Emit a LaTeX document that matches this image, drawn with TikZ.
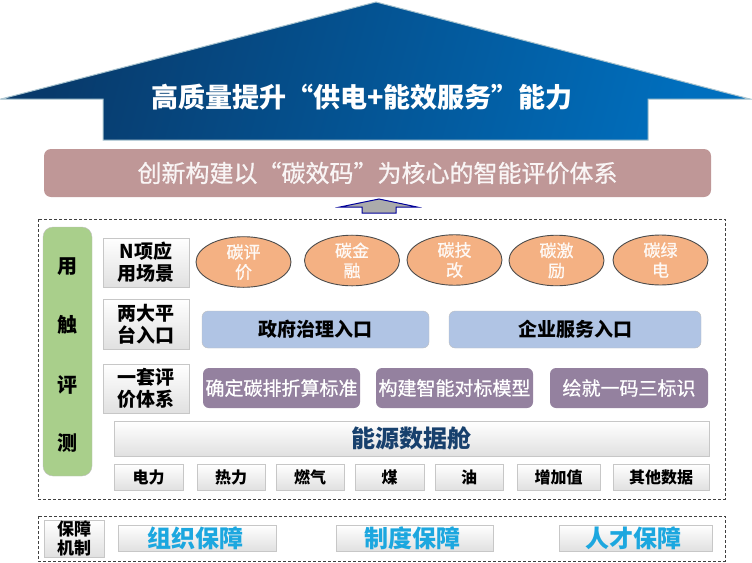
\documentclass[tikz,border=0pt]{standalone}
\usepackage{fontspec}
\setmainfont{Noto Sans CJK SC}
\newfontfamily\thickfont[FakeBold=0.8]{Noto Sans CJK SC}
\usetikzlibrary{shapes.geometric}
\definecolor{navyleft}{HTML}{083A6B}
\definecolor{navyright}{HTML}{006FBE}
\definecolor{arrowedge}{HTML}{A9C4CF}
\definecolor{pinkbar}{HTML}{BF9797}
\definecolor{greenbar}{HTML}{A9CF8B}
\definecolor{orangefill}{HTML}{F4B183}
\definecolor{bluefill}{HTML}{B0C4E4}
\definecolor{purplefill}{HTML}{94819F}
\definecolor{datatext}{HTML}{17406D}
\definecolor{guardtext}{HTML}{1CA7DF}
\tikzset{
    outerbox/.style={draw=black!75,densely dashed,line width=0.6pt},
    greybox/.style={draw=black!22,line width=0.8pt,top color=white,bottom color=black!12,inner sep=0pt,align=center},
    labelbox/.style={greybox,font=\fontsize{19}{22}\selectfont\bfseries},
    smallbox/.style={greybox,font=\fontsize{16}{18}\selectfont\bfseries},
    guardbox/.style={greybox,text=guardtext,font=\fontsize{24}{26}\selectfont\bfseries},
    sceneoval/.style={ellipse,draw=black!70,line width=0.9pt,fill=orangefill,text=white!92!orangefill,inner sep=0pt,align=center,
        minimum width=95pt,minimum height=48pt,font=\fontsize{17}{20}\selectfont\thickfont},
    entrybox/.style={rounded corners=6pt,draw=black!25,fill=bluefill,inner sep=0pt,minimum height=37pt,font=\fontsize{19}{21}\selectfont\bfseries},
    methodbox/.style={rounded corners=6pt,fill=purplefill,text=white,inner sep=0pt,minimum height=40pt,font=\fontsize{19}{21}\selectfont\thickfont}
}
\begin{document}
\begin{tikzpicture}[x=1pt,y=-1pt]
    \useasboundingbox (0,0) rectangle (752,562);

    \path[draw=arrowedge,line width=1pt,left color=navyleft,right color=navyright,shading angle=75]
        (376,2)--(750,99)--(648,99)--(648,140)--(103,140)--(103,99)--(1,99)--cycle;
    \node[text=white,font=\fontsize{27}{29}\selectfont\bfseries] (goal) at (362,97) {高质量提升“供电+能效服务”能力};

    \node[rounded corners=7pt,fill=pinkbar,text=white!90!pinkbar,inner sep=0pt,minimum width=667pt,minimum height=48pt,
        font=\fontsize{24}{26}\selectfont\thickfont] (system) at (377.5,173) {创新构建以“碳效码”为核心的智能评价体系};

    \draw[draw=blue!60!black,line width=1pt,fill=black!33]
        (379,199)--(417,207)--(396,207)--(396,213)--(362,213)--(362,207)--(340,207)--cycle;

    \draw[outerbox] (38,219) rectangle (725,499);
    \draw[outerbox] (38,516) rectangle (725,561);

    \node[rounded corners=10pt,draw=black!25,fill=greenbar,inner sep=0pt,minimum width=49pt,minimum height=249pt] (touch) at (67.5,351.5) {};
    \foreach \name/\y/\word in {yong/267/用,chu/325/触,ping/385/评,ce/443/测} {
        \node[font=\fontsize{20}{22}\selectfont\bfseries] (\name) at (67,\y) {\word};
    }

    \node[labelbox,minimum width=86pt,minimum height=49pt] (scene) at (146,262.5) {N项应\\用场景};
    \node[labelbox,minimum width=86pt,minimum height=50pt] (entry) at (146,324) {两大平\\台入口};
    \node[labelbox,minimum width=86pt,minimum height=49pt] (eval) at (146,388.5) {一套评\\价体系};

    \foreach \name/\x/\y/\word in {pingjia/243.5/262/碳评\\价,jinrong/352/260.5/碳金\\融,jigai/454.5/260/碳技\\改,jili/556.5/260.5/碳激\\励,lvdian/660.5/260/碳绿\\电} {
        \node[sceneoval] (\name) at (\x,\y) {\word};
    }

    \node[entrybox,minimum width=227pt] (gov) at (315.5,329.5) {政府治理入口};
    \node[entrybox,minimum width=252pt] (firm) at (575,329.5) {企业服务入口};

    \node[methodbox,minimum width=157pt] (standard) at (281.5,388) {确定碳排折算标准};
    \node[methodbox,minimum width=157pt] (model) at (454.5,388) {构建智能对标模型};
    \node[methodbox,minimum width=158pt] (code) at (629,388) {绘就一码三标识};

    \node[greybox,text=datatext,minimum width=595pt,minimum height=35pt,font=\fontsize{24}{26}\selectfont\bfseries] (data) at (411.5,438.5) {能源数据舱};

    \foreach \name/\x/\w/\word in {power/148.5/69/电力,heat/231/68/热力,gas/310/68/燃气,coal/389.5/69/煤,oil/469/68/油,added/558.5/83/增加值,other/661/96/其他数据} {
        \node[smallbox,minimum width=\w pt,minimum height=26pt] (\name) at (\x,477) {\word};
    }

    \node[greybox,minimum width=60pt,minimum height=37pt,font=\fontsize{17}{19}\selectfont\bfseries] (guard) at (74,538.5) {保障\\机制};
    \foreach \name/\x/\w/\word in {org/197/158/组织保障,rule/414.5/157/制度保障,talent/635.5/153/人才保障} {
        \node[guardbox,minimum width=\w pt,minimum height=26pt] (\name) at (\x,538) {\word\hspace*{4pt}};
    }
\end{tikzpicture}
\end{document}
